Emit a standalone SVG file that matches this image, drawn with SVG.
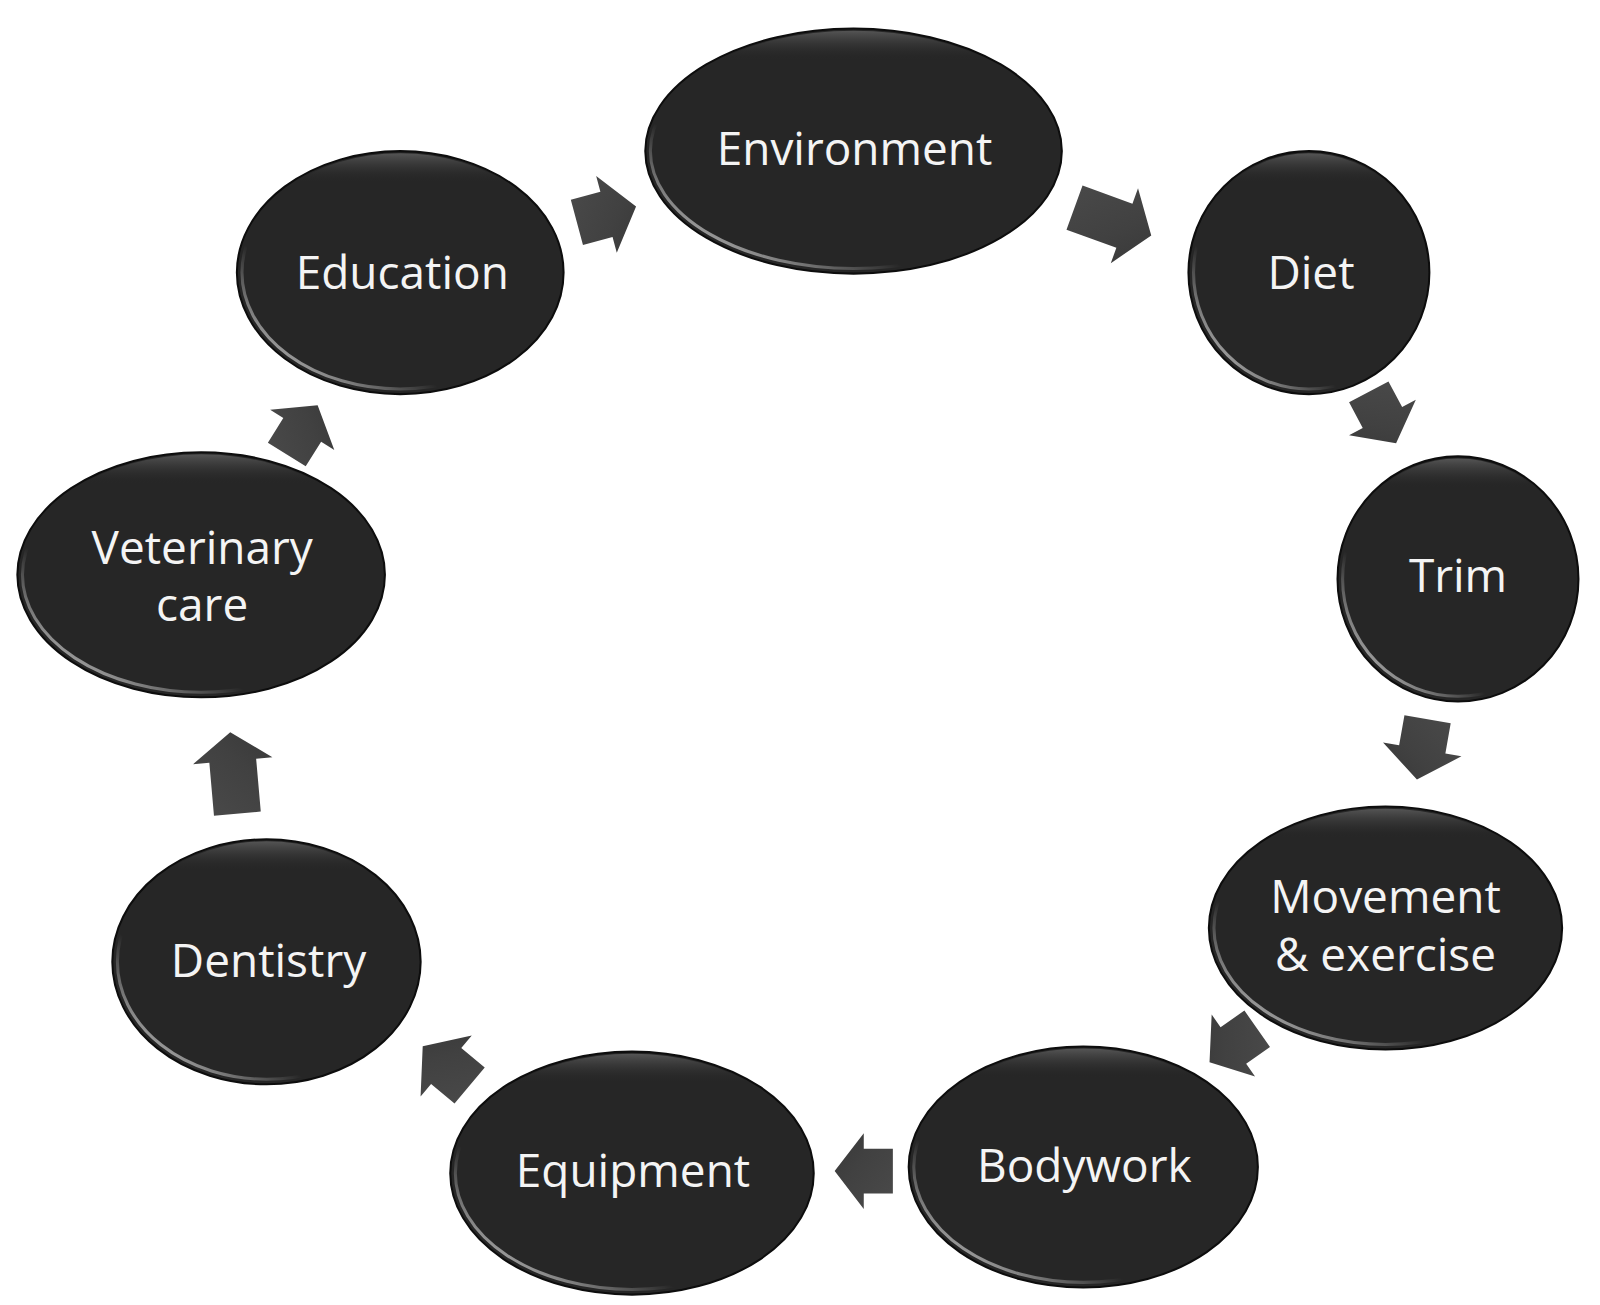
<svg xmlns="http://www.w3.org/2000/svg" width="1600" height="1305" viewBox="0 0 1600 1305">
  <defs>
    <linearGradient id="bevel" x1="0" y1="1" x2="0.7" y2="0.3">
      <stop offset="0" stop-color="#ffffff" stop-opacity="0.95"/>
      <stop offset="0.45" stop-color="#ffffff" stop-opacity="0"/>
      <stop offset="1" stop-color="#ffffff" stop-opacity="0"/>
    </linearGradient>
    <linearGradient id="topsheen" x1="0" y1="0" x2="0" y2="1">
      <stop offset="0" stop-color="#5a5a5a" stop-opacity="0.9"/>
      <stop offset="0.12" stop-color="#2a2a2a" stop-opacity="0"/>
      <stop offset="1" stop-color="#2a2a2a" stop-opacity="0"/>
    </linearGradient>
    <linearGradient id="arrowFill" x1="0" y1="0" x2="1" y2="1">
      <stop offset="0" stop-color="#4a4a4a"/>
      <stop offset="0.6" stop-color="#414141"/>
      <stop offset="1" stop-color="#383838"/>
    </linearGradient>
    <path id="arr" d="M-30,-23 H0 V-39 L30,0 L0,39 V23 H-30 Z"/>
    <path id="arrLong" d="M-40,-23 H12 V-39 L40,0 L12,39 V23 H-40 Z"/>
  </defs>
  <style>
    .node { fill: #262626; stroke: #0d0d0d; stroke-width: 2; }
    .bev { fill: none; stroke: url(#bevel); stroke-width: 3; }
    .sheen { fill: url(#topsheen); stroke: none; }
    .lbl { font-family: "Open Sans", "Noto Sans", "Liberation Sans", sans-serif; font-size: 45px; fill: #f4f4f4; text-anchor: middle; }
    .arrow { fill: url(#arrowFill); }
  </style>
  <rect width="1600" height="1305" fill="#ffffff"/>

  <g transform="scale(1.021)">
  <g id="connectors">
    <use href="#arr" class="arrow" transform="translate(594,210) rotate(-15)"/>
    <use href="#arrLong" class="arrow" transform="translate(1090,217) rotate(20)"/>
    <use href="#arr" class="arrow" transform="translate(1354,409) rotate(62) scale(0.95)"/>
    <use href="#arr" class="arrow" transform="translate(1393,734) rotate(100)"/>
    <use href="#arr" class="arrow" transform="translate(1208,1024) rotate(145) scale(0.95)"/>
    <use href="#arr" class="arrow" transform="translate(846,1147) rotate(180) scale(0.95)"/>
    <use href="#arr" class="arrow" transform="translate(437,1044) rotate(-140)"/>
    <use href="#arrLong" class="arrow" transform="translate(229,757) rotate(-95)"/>
    <use href="#arr" class="arrow" transform="translate(296,421) rotate(-58) scale(0.95)"/>
  </g>

  <g id="node-environment">
    <ellipse class="node" cx="836" cy="148" rx="204" ry="120"/>
    <ellipse class="sheen" cx="836" cy="148" rx="202" ry="118"/>
    <ellipse class="bev" cx="836" cy="148" rx="199" ry="115"/>
    <text class="lbl" x="837" y="162">Environment</text>
  </g>
  <g id="node-diet">
    <ellipse class="node" cx="1282" cy="267" rx="118" ry="119"/>
    <ellipse class="sheen" cx="1282" cy="267" rx="116" ry="117"/>
    <ellipse class="bev" cx="1282" cy="267" rx="113" ry="114"/>
    <text class="lbl" x="1284" y="283">Diet</text>
  </g>
  <g id="node-trim">
    <ellipse class="node" cx="1428" cy="567" rx="118" ry="120"/>
    <ellipse class="sheen" cx="1428" cy="567" rx="116" ry="118"/>
    <ellipse class="bev" cx="1428" cy="567" rx="113" ry="115"/>
    <text class="lbl" x="1428" y="580">Trim</text>
  </g>
  <g id="node-movement">
    <ellipse class="node" cx="1357" cy="909" rx="173" ry="119"/>
    <ellipse class="sheen" cx="1357" cy="909" rx="171" ry="117"/>
    <ellipse class="bev" cx="1357" cy="909" rx="168" ry="114"/>
    <text class="lbl" x="1357" y="894">Movement</text>
    <text class="lbl" x="1357" y="951">&amp; exercise</text>
  </g>
  <g id="node-bodywork">
    <ellipse class="node" cx="1061" cy="1143" rx="171" ry="118"/>
    <ellipse class="sheen" cx="1061" cy="1143" rx="169" ry="116"/>
    <ellipse class="bev" cx="1061" cy="1143" rx="166" ry="113"/>
    <text class="lbl" x="1062" y="1158">Bodywork</text>
  </g>
  <g id="node-equipment">
    <ellipse class="node" cx="619" cy="1149" rx="178" ry="119"/>
    <ellipse class="sheen" cx="619" cy="1149" rx="176" ry="117"/>
    <ellipse class="bev" cx="619" cy="1149" rx="173" ry="114"/>
    <text class="lbl" x="620" y="1163">Equipment</text>
  </g>
  <g id="node-dentistry">
    <ellipse class="node" cx="261" cy="942" rx="151" ry="120"/>
    <ellipse class="sheen" cx="261" cy="942" rx="149" ry="118"/>
    <ellipse class="bev" cx="261" cy="942" rx="146" ry="115"/>
    <text class="lbl" x="263" y="957">Dentistry</text>
  </g>
  <g id="node-veterinary">
    <ellipse class="node" cx="197" cy="563" rx="180" ry="120"/>
    <ellipse class="sheen" cx="197" cy="563" rx="178" ry="118"/>
    <ellipse class="bev" cx="197" cy="563" rx="175" ry="115"/>
    <text class="lbl" x="198" y="552">Veterinary</text>
    <text class="lbl" x="198" y="608">care</text>
  </g>
  <g id="node-education">
    <ellipse class="node" cx="392" cy="267" rx="160" ry="119"/>
    <ellipse class="sheen" cx="392" cy="267" rx="158" ry="117"/>
    <ellipse class="bev" cx="392" cy="267" rx="155" ry="114"/>
    <text class="lbl" x="394" y="283">Education</text>
  </g>
  </g>
</svg>
